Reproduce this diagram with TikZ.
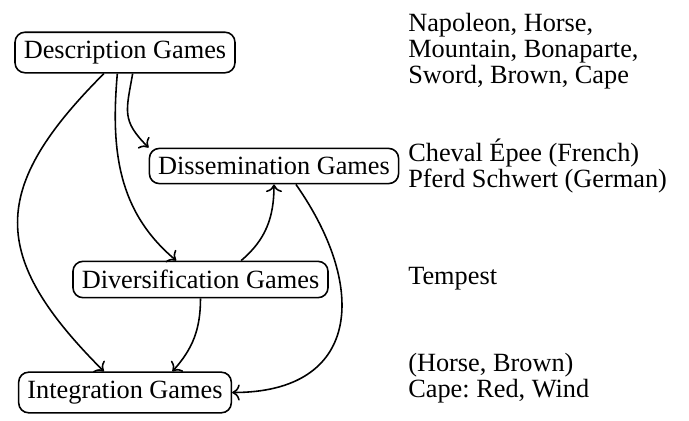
\documentclass[tikz,border=0pt]{standalone}
\usepackage{fontspec}
\setmainfont{Liberation Serif}
\usetikzlibrary{arrows.meta}
\frenchspacing

\begin{document}
\begin{tikzpicture}[x=0.38pt,y=0.38pt,
  game/.style={draw, rounded corners=3.8pt, line width=0.6pt, font=\fontsize{10}{12}\selectfont},
  note/.style={anchor=west, align=left, font=\fontsize{10}{10}\selectfont},
  flow/.style={->, line width=0.6pt}]
\useasboundingbox (0,0) rectangle (689,-420);
\node[game] (desc) at (125,-52.5) {Description Games};
\node[game] (diss) at (274,-166) {Dissemination Games};
\node[game] (div) at (200.5,-279.5) {Diversification Games};
\node[game] (integ) at (125,-392.5) {Integration Games};
\node[note] (words) at (399,-51) {Napoleon, Horse,\\Mountain, Bonaparte,\\Sword, Brown, Cape};
\node[note] (langs) at (399,-166) {Cheval Épee (French)\\Pferd Schwert (German)};
\node[note] (tempest) at (399,-279) {Tempest};
\node[note] (pairs) at (399,-378) {(Horse, Brown)\\Cape: Red, Wind};
\draw[flow] (desc.225) to[out=-135, in=135, looseness=1.4] (integ.135);
\draw[flow] (desc.250) to[out=-95, in=140] (div.142);
\draw[flow] (desc.290) to[out=-100, in=135, looseness=1.3] (diss.north west);
\draw[flow] (div.25) to[out=40, in=-90] (diss.south);
\draw[flow] (diss.-40) to[out=-55, in=0, looseness=1.5] (integ.east);
\draw[flow] (div.south) to[out=-90, in=48] (integ.24);
\end{tikzpicture}
\end{document}
